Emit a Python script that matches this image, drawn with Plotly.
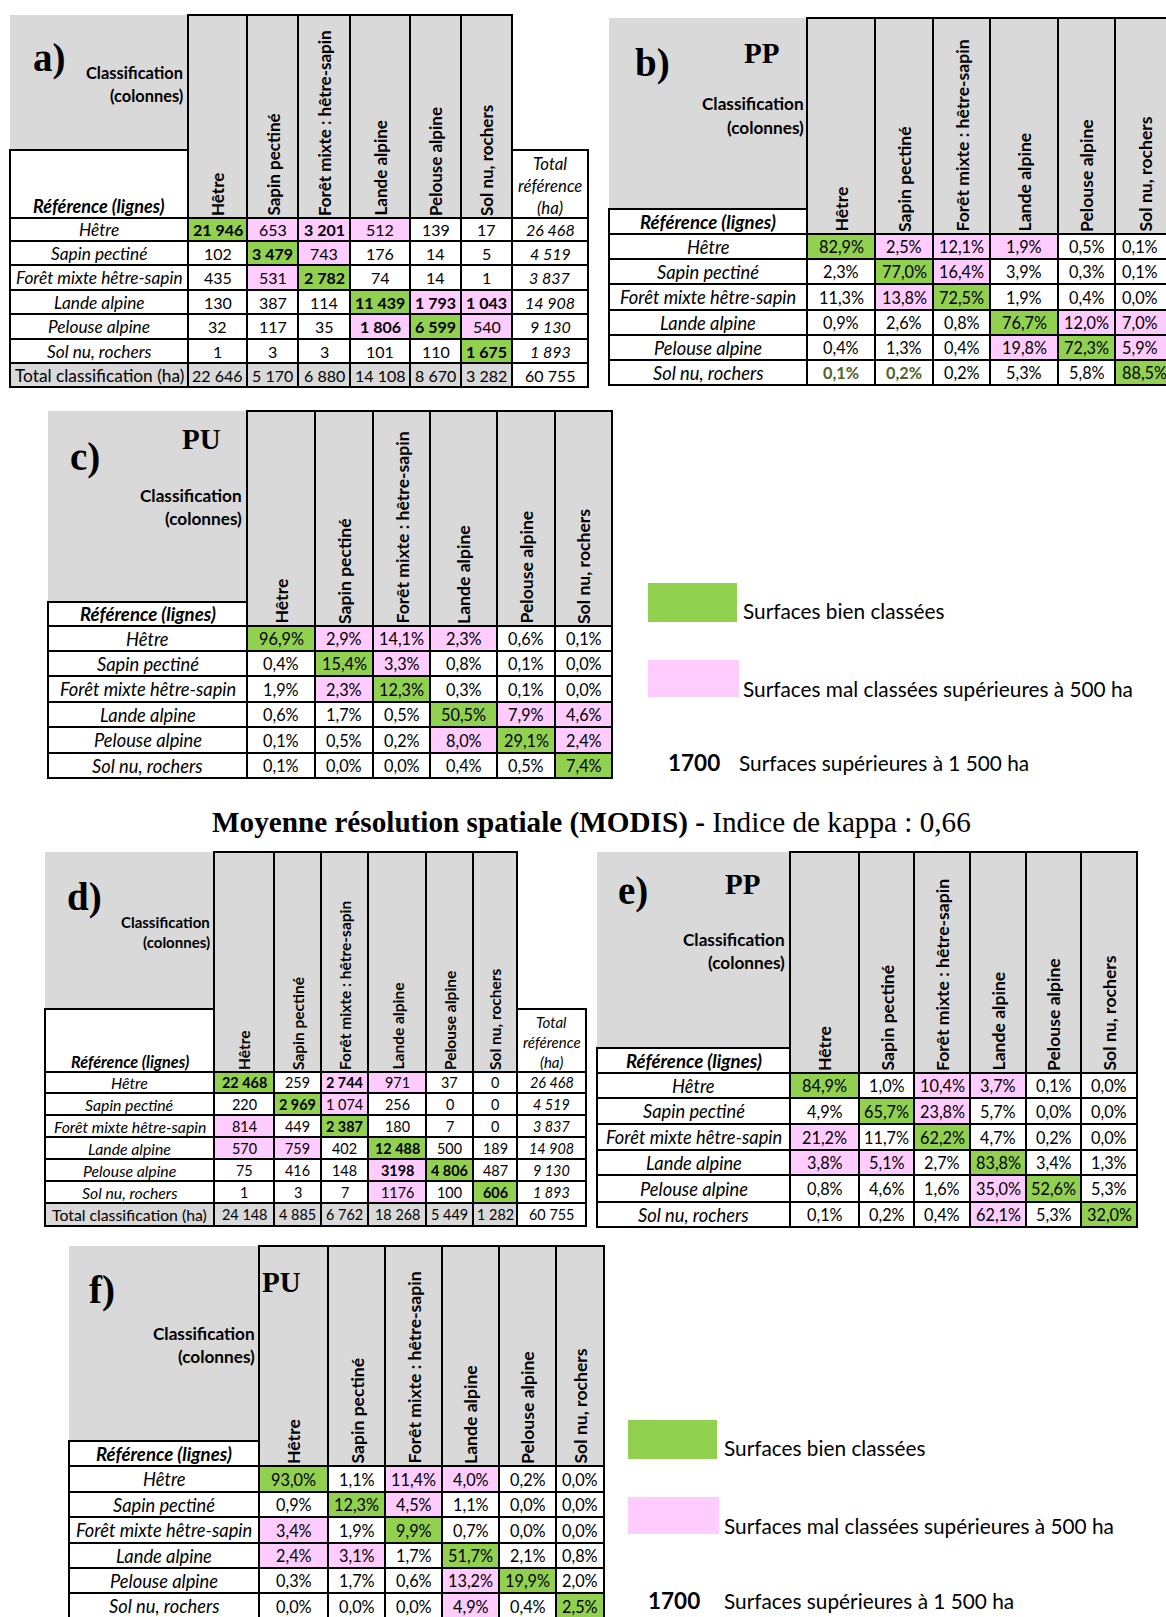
import plotly.graph_objects as go

W, H = 1166, 1617

# ---------------- DATA ----------------
ROW_CLASSES = ["Hêtre", "Sapin pectiné", "Forêt mixte hêtre-sapin",
               "Lande alpine", "Pelouse alpine", "Sol nu, rochers"]
COL_CLASSES = ["Hêtre", "Sapin pectiné", "Forêt mixte : hêtre-sapin",
               "Lande alpine", "Pelouse alpine", "Sol nu, rochers"]

# a) high spatial resolution, surfaces (ha)
A_COUNTS = [
    [21946, 653, 3201, 512, 139, 17],
    [102, 3479, 743, 176, 14, 5],
    [435, 531, 2782, 74, 14, 1],
    [130, 387, 114, 11439, 1793, 1043],
    [32, 117, 35, 1806, 6599, 540],
    [1, 3, 3, 101, 110, 1675],
]
A_ROW_TOTAL = [26468, 4519, 3837, 14908, 9130, 1893]
A_COL_TOTAL = [22646, 5170, 6880, 14108, 8670, 3282]
A_GRAND_TOTAL = 60755

# b) producer's precision (%)
B_PP = [
    [82.9, 2.5, 12.1, 1.9, 0.5, 0.1],
    [2.3, 77.0, 16.4, 3.9, 0.3, 0.1],
    [11.3, 13.8, 72.5, 1.9, 0.4, 0.0],
    [0.9, 2.6, 0.8, 76.7, 12.0, 7.0],
    [0.4, 1.3, 0.4, 19.8, 72.3, 5.9],
    [0.1, 0.2, 0.2, 5.3, 5.8, 88.5],
]
# c) user's precision (%)
C_PU = [
    [96.9, 2.9, 14.1, 2.3, 0.6, 0.1],
    [0.4, 15.4, 3.3, 0.8, 0.1, 0.0],
    [1.9, 2.3, 12.3, 0.3, 0.1, 0.0],
    [0.6, 1.7, 0.5, 50.5, 7.9, 4.6],
    [0.1, 0.5, 0.2, 8.0, 29.1, 2.4],
    [0.1, 0.0, 0.0, 0.4, 0.5, 7.4],
]

# d) medium spatial resolution (MODIS), surfaces (ha)
D_COUNTS = [
    [22468, 259, 2744, 971, 37, 0],
    [220, 2969, 1074, 256, 0, 0],
    [814, 449, 2387, 180, 7, 0],
    [570, 759, 402, 12488, 500, 189],
    [75, 416, 148, 3198, 4806, 487],
    [1, 3, 7, 1176, 100, 606],
]
D_ROW_TOTAL = [26468, 4519, 3837, 14908, 9130, 1893]
D_COL_TOTAL = [24148, 4885, 6762, 18268, 5449, 1282]
D_GRAND_TOTAL = 60755

# e) producer's precision (%)
E_PP = [
    [84.9, 1.0, 10.4, 3.7, 0.1, 0.0],
    [4.9, 65.7, 23.8, 5.7, 0.0, 0.0],
    [21.2, 11.7, 62.2, 4.7, 0.2, 0.0],
    [3.8, 5.1, 2.7, 83.8, 3.4, 1.3],
    [0.8, 4.6, 1.6, 35.0, 52.6, 5.3],
    [0.1, 0.2, 0.4, 62.1, 5.3, 32.0],
]
# f) user's precision (%)
F_PU = [
    [93.0, 1.1, 11.4, 4.0, 0.2, 0.0],
    [0.9, 12.3, 4.5, 1.1, 0.0, 0.0],
    [3.4, 1.9, 9.9, 0.7, 0.0, 0.0],
    [2.4, 3.1, 1.7, 51.7, 2.1, 0.8],
    [0.3, 1.7, 0.6, 13.2, 19.9, 2.0],
    [0.0, 0.0, 0.0, 4.9, 0.4, 2.5],
]

# cell categories: G = bien classé, P = mal classé > 500 ha, W = autre
CAT_HR = ["GPPPWW", "WGPWWW", "WPGWWW", "WWWGPP", "WWWPGP", "WWWWWG"]
CAT_MR = ["GWPPWW", "WGPWWW", "PWGWWW", "PPWGWW", "WWWPGW", "WWWPWG"]

# surfaces highlighted in bold
A_BOLD = ["101000", "010000", "001000", "000111", "000110", "000001"]
D_BOLD = ["101000", "010000", "001000", "000100", "000110", "000001"]
D_NOSEP = [(4, 3), (5, 3)]          # printed without thousands separator
B_DARKGREEN = [(5, 0), (5, 1)]      # dark green bold text

TITLE_BOLD = "Moyenne résolution spatiale (MODIS) - "
TITLE_REG = "Indice de kappa : 0,66"
LEG_GOOD = "Surfaces bien classées"
LEG_BAD = "Surfaces mal classées supérieures à 500 ha"
LEG_NUM = "1700"
LEG_BIG = "Surfaces supérieures à 1 500 ha"

# ---------------- STYLE ----------------
SANS = "Lato"
SERIF = "Liberation Serif"
GREEN = "#92D050"
PINK = "#FFCCFF"
GRAY = "#D9D9D9"
DKGREEN = "#4F6228"
FILL = {"G": GREEN, "P": PINK, "W": "white"}
LW = 2

fills, borders, annotations = [], [], []


def rect(x0, y0, x1, y1, fill=None, border=True, lw=LW):
    if fill is not None:
        fills.append(dict(type="rect", xref="x", yref="y", x0=x0, x1=x1, y0=y0, y1=y1,
                          fillcolor=fill, line=dict(width=0), layer="above"))
    if border:
        borders.append(dict(type="rect", xref="x", yref="y", x0=x0, x1=x1, y0=y0, y1=y1,
                            fillcolor="rgba(0,0,0,0)", line=dict(color="black", width=lw),
                            layer="above"))


def text(x, y, s, size, family=SANS, color="black", xanchor="center",
         yanchor="middle", angle=0, align="center"):
    annotations.append(dict(x=x, y=y, xref="x", yref="y", text=s, showarrow=False,
                            font=dict(size=size, family=family, color=color),
                            xanchor=xanchor, yanchor=yanchor, textangle=angle,
                            align=align, borderpad=0))


def fmt_int(v, sep=True):
    return f"{v:,}".replace(",", " ") if sep else str(v)


def fmt_pct(v):
    return f"{v:.1f}%".replace(".", ",")


def draw_table(sp):
    left, cols, rows = sp["left"], sp["cols"], sp["rows"]
    top, ref_top = sp["top"], sp["ref_top"]
    fs, hfs = sp["fs"], sp["hfs"]
    # gray upper-left block
    rect(left, top, cols[0], ref_top, GRAY, border=False)
    # Référence box
    rect(left, ref_top, cols[0], rows[0], "white")
    text((left + cols[0]) / 2, (ref_top + rows[0]) / 2 + sp.get("ref_dy", 0),
         "<b><i>Référence (lignes)</i></b>", sp["rfs"])
    # column headers
    for j, name in enumerate(COL_CLASSES):
        rect(cols[j], top, cols[j + 1], rows[0], GRAY)
        xc = (cols[j] + cols[j + 1]) / 2
        if j == 5 and sp.get("clip_last"):
            xc = cols[j] + 30
        text(xc, rows[0] - 1, f"<b>{name}</b>", hfs, yanchor="bottom", angle=-90)
    # Classification label, letter, PP/PU
    text(sp["cls_x"], sp["cls_y"][0], "<b>Classification</b>", sp["cfs"], xanchor="right")
    text(sp["cls_x"], sp["cls_y"][1], "<b>(colonnes)</b>", sp["cfs"], xanchor="right")
    text(sp["letter_xy"][0], sp["letter_xy"][1], f"<b>{sp['letter']}</b>", sp["lfs"], family=SERIF)
    if sp.get("sub"):
        text(sp["sub_xy"][0], sp["sub_xy"][1], f"<b>{sp['sub']}</b>", sp["sfs"], family=SERIF)
    # body
    vals, cats = sp["values"], sp["cats"]
    for i, rname in enumerate(ROW_CLASSES):
        y0, y1 = rows[i], rows[i + 1]
        yc = (y0 + y1) / 2
        rect(left, y0, cols[0], y1, "white")
        text((left + cols[0]) / 2, yc, f"<i>{rname}</i>", sp["lbfs"])
        for j in range(6):
            rect(cols[j], y0, cols[j + 1], y1, FILL[cats[i][j]])
            v = vals[i][j]
            if sp["kind"] == "count":
                s = fmt_int(v, (i, j) not in sp.get("nosep", []))
            else:
                s = fmt_pct(v)
            color = "black"
            if sp.get("bold") and sp["bold"][i][j] == "1":
                s = f"<b>{s}</b>"
            if (i, j) in sp.get("darkgreen", []):
                s = f"<b>{s}</b>"
                color = DKGREEN
            if j == 5 and sp.get("clip_last"):
                text(cols[j] + 6, yc, s, fs, color=color, xanchor="left")
            else:
                text((cols[j] + cols[j + 1]) / 2, yc, s, fs, color=color)
        if sp.get("row_total"):
            rect(cols[6], y0, sp["total_right"], y1, "white")
            text((cols[6] + sp["total_right"]) / 2, yc,
                 f"<i>{fmt_int(sp['row_total'][i])}</i>", fs)
    if sp.get("row_total"):
        tx = (cols[6] + sp["total_right"]) / 2
        rect(cols[6], ref_top, sp["total_right"], rows[0], "white")
        for k, w in enumerate(["Total", "référence", "(ha)"]):
            text(tx, sp["tot_ys"][k], f"<i>{w}</i>", sp["tfs"])
        # total classification row
        y0, y1 = rows[6], rows[7]
        yc = (y0 + y1) / 2
        rect(left, y0, cols[0], y1, GRAY)
        text((left + cols[0]) / 2, yc, "Total classification (ha)", sp["lbfs"])
        for j in range(6):
            rect(cols[j], y0, cols[j + 1], y1, GRAY)
            text((cols[j] + cols[j + 1]) / 2, yc, fmt_int(sp["col_total"][j]), fs)
        rect(cols[6], y0, sp["total_right"], y1, "white")
        text(tx, yc, fmt_int(sp["grand_total"]), fs)


PCT_FONTS = dict(fs=16.3, hfs=17.6, lbfs=18.3, rfs=18.6, cfs=17.2, lfs=39, sfs=29)

TABLES = [
    dict(letter="a)", values=A_COUNTS, cats=CAT_HR, kind="count", bold=A_BOLD,
         row_total=A_ROW_TOTAL, col_total=A_COL_TOTAL, grand_total=A_GRAND_TOTAL,
         left=10, cols=[188, 247, 298, 350, 410, 461, 512], total_right=588,
         top=15, ref_top=150, rows=[218, 241, 265, 290, 314, 339, 363, 387],
         tot_ys=[163, 185, 207], letter_xy=(49, 58), cls_x=184, cls_y=(72, 95),
         fs=16, hfs=17, lbfs=17.3, rfs=18, cfs=16.4, tfs=16.8, lfs=39, ref_dy=22),
    dict(letter="b)", sub="PP", values=B_PP, cats=CAT_HR, kind="pct",
         darkgreen=B_DARKGREEN, clip_last=True,
         left=609, cols=[807, 875, 933, 990, 1058, 1115, 1170],
         top=18, ref_top=209, rows=[234, 259, 284, 310, 335, 360, 385],
         letter_xy=(652, 63), sub_xy=(761, 53), cls_x=805, cls_y=(103, 127),
         **PCT_FONTS),
    dict(letter="c)", sub="PU", values=C_PU, cats=CAT_HR, kind="pct",
         left=48, cols=[247, 315, 373, 430, 497, 555, 612],
         top=411, ref_top=602, rows=[626, 651, 676, 702, 727, 753, 778],
         letter_xy=(85, 457), sub_xy=(201, 439), cls_x=243, cls_y=(495, 518),
         **PCT_FONTS),
    dict(letter="d)", values=D_COUNTS, cats=CAT_MR, kind="count", bold=D_BOLD,
         nosep=D_NOSEP, row_total=D_ROW_TOTAL, col_total=D_COL_TOTAL,
         grand_total=D_GRAND_TOTAL,
         left=45, cols=[214, 274, 321, 368, 426, 473, 517], total_right=586,
         top=852, ref_top=1009, rows=[1072, 1093, 1115, 1137, 1159, 1181, 1203, 1226],
         tot_ys=[1022, 1042, 1062], letter_xy=(84, 897), cls_x=211, cls_y=(922, 942),
         fs=14.4, hfs=15.5, lbfs=15.8, rfs=16.2, cfs=15, tfs=15, lfs=39, ref_dy=21),
    dict(letter="e)", sub="PP", values=E_PP, cats=CAT_MR, kind="pct",
         left=597, cols=[790, 859, 914, 970, 1026, 1081, 1137],
         top=852, ref_top=1048, rows=[1073, 1098, 1124, 1150, 1175, 1202, 1227],
         letter_xy=(633, 891), sub_xy=(742, 884), cls_x=786, cls_y=(939, 962),
         **PCT_FONTS),
    dict(letter="f)", sub="PU", values=F_PU, cats=CAT_MR, kind="pct",
         left=69, cols=[259, 328, 385, 442, 499, 556, 604],
         top=1246, ref_top=1441, rows=[1466, 1492, 1517, 1543, 1568, 1593, 1619],
         letter_xy=(102, 1290), sub_xy=(281, 1282), cls_x=256, cls_y=(1333, 1356),
         **PCT_FONTS),
]

for sp in TABLES:
    draw_table(sp)

# title of the MODIS part
text(591, 822, f"<b>{TITLE_BOLD}</b>{TITLE_REG}", 29.2, family=SERIF)

# legends
LEGENDS = [dict(gx=648, gy=583, py=660, ny=762, nx=667, tx=742, tx3=738),
           dict(gx=628, gy=1420, py=1497, ny=1600, nx=647, tx=723, tx3=723)]
for lg in LEGENDS:
    rect(lg["gx"], lg["gy"], lg["gx"] + 89, lg["gy"] + 39, GREEN, border=False)
    text(lg["tx"], lg["gy"] + 27, LEG_GOOD, 20.8, xanchor="left")
    rect(lg["gx"], lg["py"], lg["gx"] + 91, lg["py"] + 37, PINK, border=False)
    text(lg["tx"], lg["py"] + 28, LEG_BAD, 20.8, xanchor="left")
    text(lg["nx"], lg["ny"], f"<b>{LEG_NUM}</b>", 22.5, xanchor="left")
    text(lg["tx3"], lg["ny"], LEG_BIG, 20.8, xanchor="left")

fig = go.Figure()
fig.add_trace(go.Scatter(x=[0, W], y=[0, H], mode="markers",
                         marker=dict(opacity=0), hoverinfo="skip", showlegend=False))
fig.update_layout(
    width=W, height=H, autosize=False,
    margin=dict(l=0, r=0, t=0, b=0),
    paper_bgcolor="white", plot_bgcolor="white",
    xaxis=dict(range=[0, W], visible=False, fixedrange=True),
    yaxis=dict(range=[H, 0], visible=False, fixedrange=True),
    shapes=fills + borders,
    annotations=annotations,
    showlegend=False,
)
fig.write_html("out.html",
               config={"displayModeBar": False, "staticPlot": True},
               post_script="document.body.style.margin='0px';"
                           "document.body.style.overflow='hidden';")
